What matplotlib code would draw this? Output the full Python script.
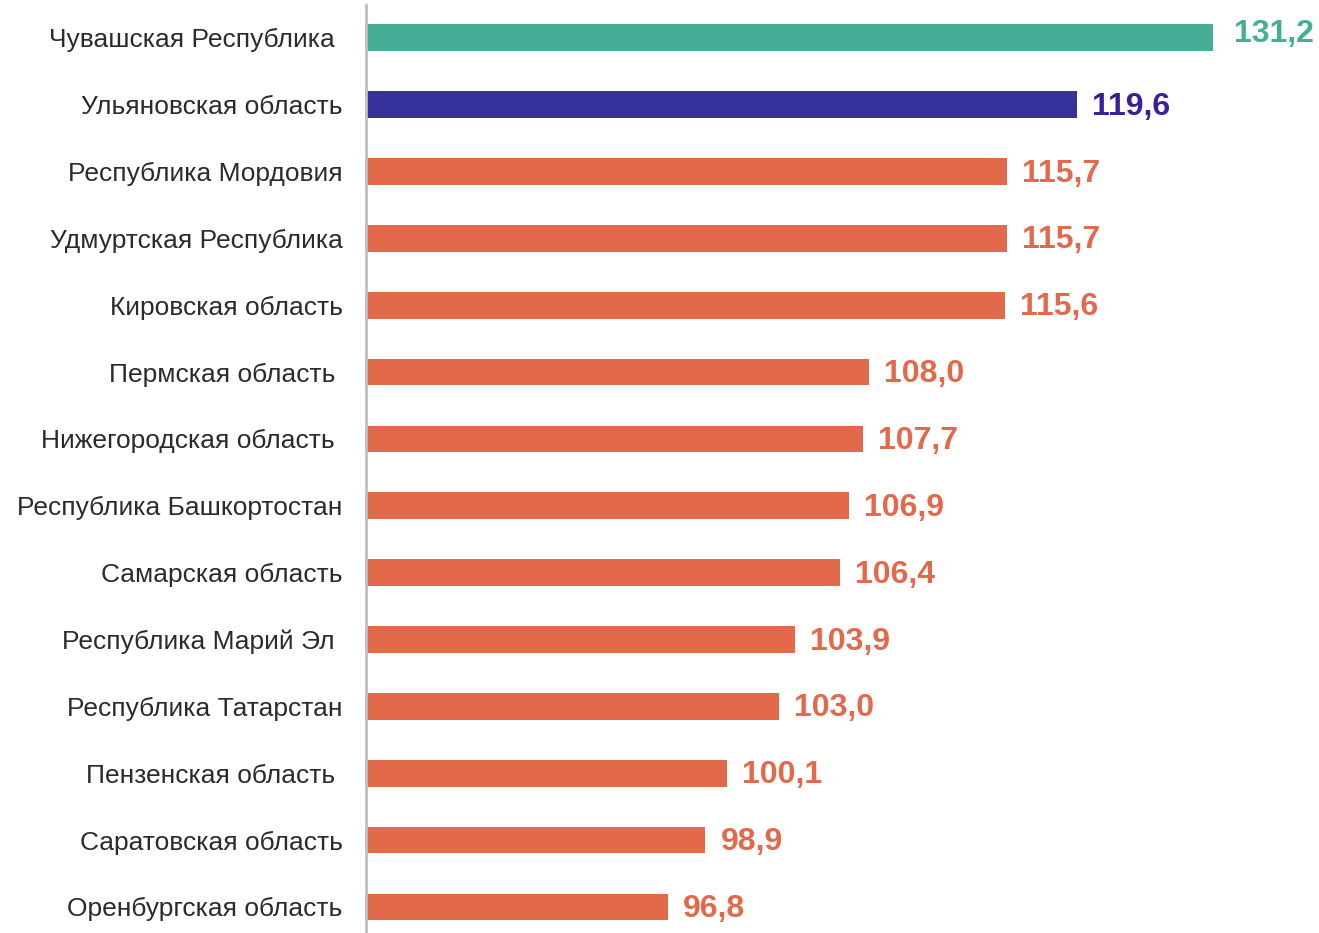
import matplotlib.pyplot as plt
import numpy as np

plt.rcParams['font.family'] = ['Liberation Sans', 'DejaVu Sans']

regions = ['Чувашская Республика ', 'Ульяновская область', 'Республика Мордовия',
           'Удмуртская Республика', 'Кировская область', 'Пермская область ',
           'Нижегородская область ', 'Республика Башкортостан', 'Самарская область',
           'Республика Марий Эл ', 'Республика Татарстан', 'Пензенская область ',
           'Саратовская область', 'Оренбургская область']
values = [131.2, 119.6, 115.7, 115.7, 115.6, 108.0, 107.7, 106.9, 106.4,
          103.9, 103.0, 100.1, 98.9, 96.8]
# the first bar is drawn shorter than its label in the original chart
bar_lengths = [127.2] + values[1:]

green = '#46AD97'
navy = '#37319A'
orange = '#E2694A'
bar_colors = [green, navy] + [orange] * (len(values) - 2)
text_colors = [green, '#3A1F9C'] + [orange] * (len(values) - 2)

fig = plt.figure(figsize=(13.19, 9.33), dpi=100)
ax = fig.add_axes([366 / 1319, 0, 1 - 366 / 1319, 928 / 933])

y = np.arange(len(values))
x0 = 80
ax.barh(y, np.array(bar_lengths) - x0, left=x0, height=0.4, color=bar_colors)

for i, (v, l) in enumerate(zip(values, bar_lengths)):
    lbl = f'{v:.1f}'.replace('.', ',')
    dx, dy = (15, 3) if i == 0 else (11, -1.5)
    ax.annotate(lbl, (l, i), xytext=(dx, dy), textcoords='offset points',
                ha='left', va='center', fontsize=23, fontweight='bold',
                color=text_colors[i])

ax.set_xlim(x0, 80 + 953 / 17.95)
ax.set_ylim(13.39, -0.49)
ax.set_yticks(y)
ax.set_yticklabels(regions, fontsize=19, color='#2B2B2B')
ax.tick_params(axis='y', length=0, pad=17)
ax.set_xticks([])
for s in ['top', 'right', 'bottom']:
    ax.spines[s].set_visible(False)
ax.spines['left'].set_color('#BFBFBF')
ax.spines['left'].set_linewidth(2)

fig.savefig('out.png', dpi=100)
